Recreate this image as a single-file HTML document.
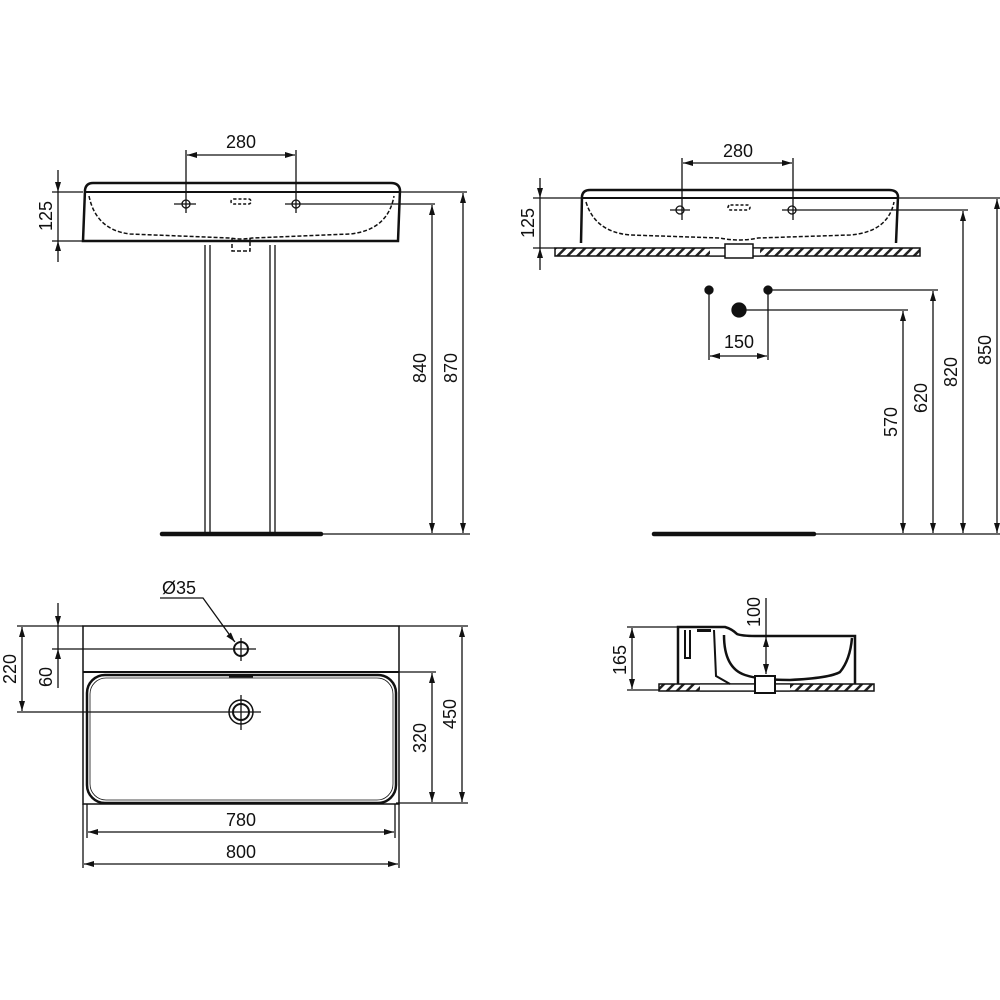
<!DOCTYPE html>
<html><head><meta charset="utf-8"><style>
html,body{margin:0;padding:0;background:#fff}
svg{display:block}
text{font-family:"Liberation Sans",sans-serif;font-size:18px;fill:#111}
</style></head><body>
<svg width="1000" height="1000" viewBox="0 0 1000 1000" xmlns="http://www.w3.org/2000/svg">
<defs>
<marker id="a" viewBox="0 0 10 6" refX="10" refY="3" markerWidth="10" markerHeight="6" markerUnits="userSpaceOnUse" orient="auto-start-reverse"><path d="M0,0 L10,3 L0,6 z" fill="#111"/></marker>
<pattern id="h" width="7" height="7" patternUnits="userSpaceOnUse" patternTransform="rotate(45)"><rect width="7" height="7" fill="#fff"/><rect width="2.5" height="7" fill="#222"/></pattern>
</defs>
<g stroke="#111" fill="none" stroke-width="1.3">

<!-- ===== TOP LEFT: front view with pedestal ===== -->
<path d="M83,241 L85,190 Q86,183 93,183 L391,183 Q399,183 400,190 L398,241 Z" stroke-width="2.5"/>
<line x1="85" y1="192" x2="400" y2="192" stroke-width="2"/>
<path d="M89,196 Q96,230 130,234 L230,238 Q241,240 252,238 L350,234 Q388,230 394,196" stroke-dasharray="4,2" stroke-width="1.5"/>
<path d="M232,238 L232,251 L250,251 L250,238" stroke-dasharray="4,2" stroke-width="1.5"/>
<rect x="231" y="199" width="20" height="5" rx="2.5" stroke-dasharray="3,2" stroke-width="1.5"/>
<circle cx="186" cy="204" r="4"/><line x1="174" y1="204" x2="196" y2="204"/>
<circle cx="296" cy="204" r="4"/><line x1="285" y1="204" x2="435" y2="204"/>
<line x1="186" y1="150" x2="186" y2="213"/><line x1="296" y1="150" x2="296" y2="213"/>
<line x1="187" y1="155" x2="295" y2="155" marker-start="url(#a)" marker-end="url(#a)"/>
<line x1="400" y1="192" x2="467" y2="192"/>
<line x1="205" y1="245" x2="205" y2="533"/><line x1="210" y1="245" x2="210" y2="533"/>
<line x1="270" y1="245" x2="270" y2="533"/><line x1="275" y1="245" x2="275" y2="533"/>
<line x1="162" y1="534" x2="321" y2="534" stroke-width="4.5" stroke-linecap="round"/>
<line x1="321" y1="534" x2="470" y2="534"/>
<line x1="52" y1="192" x2="83" y2="192"/><line x1="52" y1="241" x2="83" y2="241"/>
<line x1="58" y1="170" x2="58" y2="192" marker-end="url(#a)"/>
<line x1="58" y1="192" x2="58" y2="241"/>
<line x1="58" y1="262" x2="58" y2="241" marker-end="url(#a)"/>
<line x1="432" y1="533" x2="432" y2="205" marker-start="url(#a)" marker-end="url(#a)"/>
<line x1="463" y1="533" x2="463" y2="193" marker-start="url(#a)" marker-end="url(#a)"/>

<!-- ===== TOP RIGHT ===== -->
<path d="M581,243 L582,196 Q583,190 590,190 L889,190 Q897,190 898,196 L896,243" stroke-width="2.5"/>
<line x1="582" y1="198" x2="898" y2="198" stroke-width="2"/>
<path d="M586,202 Q595,232 630,235 L720,238 Q739,242 758,238 L850,235 Q888,232 894,202" stroke-dasharray="4,2" stroke-width="1.5"/>
<rect x="728" y="205" width="22" height="5" rx="2.5" stroke-dasharray="3,2" stroke-width="1.5"/>
<rect x="555" y="248" width="365" height="8" fill="url(#h)" stroke-width="1.5"/>
<rect x="710" y="248" width="50" height="8" fill="#fff" stroke="none"/>
<line x1="710" y1="248" x2="760" y2="248"/><line x1="710" y1="256" x2="760" y2="256"/>
<rect x="725" y="244" width="28" height="14" fill="#fff" stroke-width="1.5"/>
<circle cx="680" cy="210" r="4"/><line x1="670" y1="210" x2="690" y2="210"/>
<circle cx="792" cy="210" r="4"/><line x1="782" y1="210" x2="968" y2="210"/>
<line x1="682" y1="158" x2="682" y2="220"/><line x1="793" y1="158" x2="793" y2="220"/>
<line x1="683" y1="163" x2="792" y2="163" marker-start="url(#a)" marker-end="url(#a)"/>
<line x1="898" y1="198" x2="1000" y2="198"/>
<line x1="533" y1="198" x2="581" y2="198"/><line x1="533" y1="248" x2="555" y2="248"/>
<line x1="540" y1="178" x2="540" y2="198" marker-end="url(#a)"/>
<line x1="540" y1="198" x2="540" y2="248"/>
<line x1="540" y1="270" x2="540" y2="248" marker-end="url(#a)"/>
<circle cx="709" cy="290" r="4" fill="#111"/><circle cx="768" cy="290" r="4" fill="#111"/>
<circle cx="739" cy="310" r="7" fill="#111"/>
<line x1="768" y1="290" x2="938" y2="290"/><line x1="739" y1="310" x2="908" y2="310"/>
<line x1="709" y1="290" x2="709" y2="360"/><line x1="768" y1="290" x2="768" y2="360"/>
<line x1="710" y1="356" x2="767" y2="356" marker-start="url(#a)" marker-end="url(#a)"/>
<line x1="903" y1="533" x2="903" y2="311" marker-start="url(#a)" marker-end="url(#a)"/>
<line x1="933" y1="533" x2="933" y2="291" marker-start="url(#a)" marker-end="url(#a)"/>
<line x1="963" y1="533" x2="963" y2="211" marker-start="url(#a)" marker-end="url(#a)"/>
<line x1="997" y1="533" x2="997" y2="199" marker-start="url(#a)" marker-end="url(#a)"/>
<line x1="654" y1="534" x2="814" y2="534" stroke-width="4.5" stroke-linecap="round"/>
<line x1="814" y1="534" x2="1000" y2="534"/>

<!-- ===== BOTTOM LEFT plan ===== -->
<rect x="83" y="626" width="316" height="178" stroke-width="1.5"/>
<line x1="83" y1="672" x2="399" y2="672" stroke-width="2"/>
<rect x="87" y="675" width="309" height="128" rx="18" stroke-width="2.5"/>
<rect x="90" y="678" width="303" height="122" rx="16" stroke-width="0.8"/>
<line x1="229" y1="676" x2="253" y2="676" stroke-width="3"/>
<circle cx="241" cy="649" r="7" stroke-width="2"/>
<line x1="241" y1="638" x2="241" y2="661"/><line x1="52" y1="649" x2="256" y2="649"/>
<circle cx="241" cy="712" r="12" stroke-width="1.5"/><circle cx="241" cy="712" r="8" stroke-width="2"/>
<line x1="241" y1="695" x2="241" y2="730"/><line x1="17" y1="712" x2="261" y2="712"/>
<line x1="17" y1="626" x2="83" y2="626"/>
<polyline points="160,598 203,598 234,641" /><line x1="230" y1="636" x2="235" y2="642" marker-end="url(#a)"/>
<line x1="22" y1="627" x2="22" y2="711" marker-start="url(#a)" marker-end="url(#a)"/>
<line x1="58" y1="603" x2="58" y2="626" marker-end="url(#a)"/>
<line x1="58" y1="626" x2="58" y2="649"/>
<line x1="58" y1="688" x2="58" y2="649" marker-end="url(#a)"/>
<line x1="399" y1="626" x2="468" y2="626"/>
<line x1="399" y1="672" x2="436" y2="672"/>
<line x1="396" y1="803" x2="468" y2="803"/>
<line x1="432" y1="673" x2="432" y2="802" marker-start="url(#a)" marker-end="url(#a)"/>
<line x1="462" y1="627" x2="462" y2="802" marker-start="url(#a)" marker-end="url(#a)"/>
<line x1="87" y1="804" x2="87" y2="838"/><line x1="395" y1="804" x2="395" y2="838"/>
<line x1="83" y1="804" x2="83" y2="868"/><line x1="399" y1="804" x2="399" y2="868"/>
<line x1="88" y1="832" x2="394" y2="832" marker-start="url(#a)" marker-end="url(#a)"/>
<line x1="84" y1="864" x2="398" y2="864" marker-start="url(#a)" marker-end="url(#a)"/>

<!-- ===== BOTTOM RIGHT side ===== -->
<rect x="659" y="684" width="215" height="7" fill="url(#h)" stroke-width="1.5"/>
<rect x="700" y="684" width="90" height="7" fill="#fff" stroke="none"/>
<line x1="700" y1="684" x2="790" y2="684"/><line x1="700" y1="691" x2="790" y2="691"/>
<path d="M678,684 L678,627 L725,627 Q732,629 737,634 Q742,636 755,636 L855,636 L855,684" stroke-width="2.5"/>
<path d="M685,630 L685,658 L690,658 L690,630" stroke-width="2"/>
<path d="M714,630 L716,676 L730,684" stroke-width="2"/>
<path d="M724,635 Q724,668 745,675 Q760,680 790,680 Q830,678 840,672 Q850,660 852,638" stroke-width="2.5"/>
<rect x="755" y="676" width="20" height="17" fill="#fff" stroke-width="2"/>
<rect x="697" y="629" width="14" height="3" fill="#111" stroke="none"/>
<line x1="627" y1="627" x2="678" y2="627"/><line x1="627" y1="690" x2="659" y2="690"/>
<line x1="632" y1="628" x2="632" y2="689" marker-start="url(#a)" marker-end="url(#a)"/>
<line x1="766" y1="598" x2="766" y2="636"/>
<line x1="766" y1="637" x2="766" y2="674" marker-start="url(#a)" marker-end="url(#a)"/>
</g>

<g>
<text x="241" y="148" text-anchor="middle">280</text>
<text x="738" y="157" text-anchor="middle">280</text>
<text x="739" y="348" text-anchor="middle">150</text>
<text x="179" y="594" text-anchor="middle">Ø35</text>
<text x="241" y="826" text-anchor="middle">780</text>
<text x="241" y="858" text-anchor="middle">800</text>
<text transform="translate(52,216) rotate(-90)" text-anchor="middle">125</text>
<text transform="translate(534,223) rotate(-90)" text-anchor="middle">125</text>
<text transform="translate(426,368) rotate(-90)" text-anchor="middle">840</text>
<text transform="translate(457,368) rotate(-90)" text-anchor="middle">870</text>
<text transform="translate(897,422) rotate(-90)" text-anchor="middle">570</text>
<text transform="translate(927,398) rotate(-90)" text-anchor="middle">620</text>
<text transform="translate(957,372) rotate(-90)" text-anchor="middle">820</text>
<text transform="translate(991,350) rotate(-90)" text-anchor="middle">850</text>
<text transform="translate(16,669) rotate(-90)" text-anchor="middle">220</text>
<text transform="translate(52,677) rotate(-90)" text-anchor="middle">60</text>
<text transform="translate(426,738) rotate(-90)" text-anchor="middle">320</text>
<text transform="translate(456,714) rotate(-90)" text-anchor="middle">450</text>
<text transform="translate(626,660) rotate(-90)" text-anchor="middle">165</text>
<text transform="translate(760,612) rotate(-90)" text-anchor="middle">100</text>
</g>
</svg>
</body></html>
